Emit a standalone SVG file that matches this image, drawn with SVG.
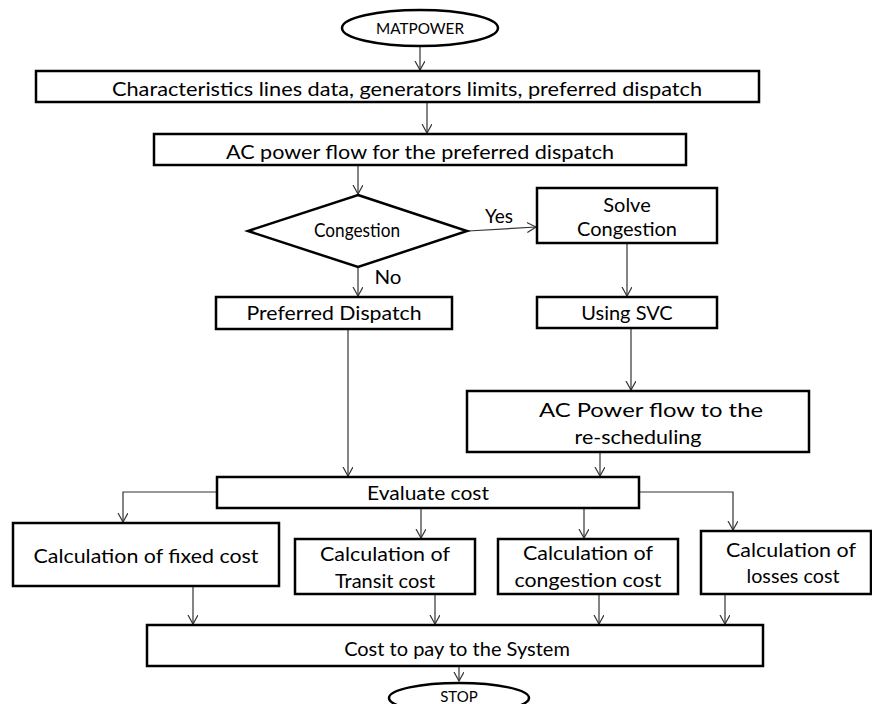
<svg xmlns="http://www.w3.org/2000/svg" width="872" height="704" viewBox="0 0 872 704">
<defs>
<style>
.box{fill:#fff;stroke:#000;stroke-width:2.5}
.t{font-family:Lato,"Open Sans","Liberation Sans",sans-serif;font-size:20px;fill:#000;text-anchor:middle}
.s{font-size:15px}
.c{fill:none;stroke:#333;stroke-width:1.2;marker-end:url(#ah)}
.cn{fill:none;stroke:#333;stroke-width:1.2}
</style>
<marker id="ah" markerWidth="12" markerHeight="12" refX="9" refY="5" orient="auto" markerUnits="userSpaceOnUse" viewBox="0 0 12 12">
<path d="M0,0 L9,5 L0,10" fill="none" stroke="#333" stroke-width="1.2"/>
</marker>
</defs>
<rect width="872" height="704" fill="#fff"/>
<g id="connectors">
<line class="c" x1="420" y1="47" x2="420" y2="70"/>
<line class="c" x1="427" y1="103" x2="427" y2="133"/>
<line class="c" x1="358" y1="166" x2="358" y2="194"/>
<line class="c" x1="468" y1="231" x2="536" y2="227"/>
<line class="c" x1="358" y1="267" x2="358" y2="296"/>
<line class="c" x1="627" y1="244" x2="627" y2="296"/>
<line class="c" x1="631" y1="329" x2="631" y2="390"/>
<line class="c" x1="348" y1="330" x2="348" y2="476"/>
<line class="c" x1="600" y1="453" x2="600" y2="476"/>
<polyline class="c" points="216,492 123,492 123,522"/>
<line class="c" x1="421" y1="509" x2="421" y2="538"/>
<line class="c" x1="584" y1="509" x2="584" y2="538"/>
<polyline class="c" points="640,492 733,492 733,530"/>
<line class="c" x1="193" y1="587" x2="193" y2="624"/>
<line class="c" x1="435" y1="595" x2="435" y2="624"/>
<line class="c" x1="599" y1="595" x2="599" y2="624"/>
<line class="c" x1="725" y1="595" x2="725" y2="624"/>
<line class="c" x1="459" y1="667" x2="459" y2="681"/>
</g>
<g id="matpower">
<ellipse class="box" cx="420" cy="28" rx="78" ry="18"/>
<text class="t s" x="420" y="34" textLength="88" lengthAdjust="spacingAndGlyphs">MATPOWER</text>
</g>
<g id="input">
<rect class="box" x="36" y="71" width="723" height="31"/>
<text class="t" x="407" y="96" textLength="590" lengthAdjust="spacingAndGlyphs">Characteristics lines data, generators limits, preferred dispatch</text>
</g>
<g id="acpf">
<rect class="box" x="154" y="134" width="532" height="31"/>
<text class="t" x="420" y="159" textLength="388" lengthAdjust="spacingAndGlyphs">AC power flow for the preferred dispatch</text>
</g>
<g id="congestion">
<polygon class="box" points="358,195 467,231 358,267 248,231"/>
<text class="t" x="357" y="237" font-size="17" textLength="86" lengthAdjust="spacingAndGlyphs">Congestion</text>
</g>
<g id="labels">
<text class="t" x="499" y="223" font-size="19" textLength="28" lengthAdjust="spacingAndGlyphs">Yes</text>
<text class="t" x="388" y="284" font-size="19" textLength="27" lengthAdjust="spacingAndGlyphs">No</text>
</g>
<g id="solve">
<rect class="box" x="537" y="188" width="180" height="55"/>
<text class="t" x="627" y="212">Solve</text>
<text class="t" x="627" y="236">Congestion</text>
</g>
<g id="preferred">
<rect class="box" x="216" y="297" width="236" height="32"/>
<text class="t" x="334" y="320" textLength="175" lengthAdjust="spacingAndGlyphs">Preferred Dispatch</text>
</g>
<g id="svc">
<rect class="box" x="537" y="297" width="180" height="31"/>
<text class="t" x="627" y="320">Using SVC</text>
</g>
<g id="resched">
<rect class="box" x="467" y="391" width="342" height="61"/>
<text class="t" x="651" y="417" textLength="224" lengthAdjust="spacingAndGlyphs">AC Power flow to the</text>
<text class="t" x="638" y="444" textLength="127" lengthAdjust="spacingAndGlyphs">re-scheduling</text>
</g>
<g id="evaluate">
<rect class="box" x="217" y="477" width="422" height="31"/>
<text class="t" x="428" y="500" textLength="122" lengthAdjust="spacingAndGlyphs">Evaluate cost</text>
</g>
<g id="fixed">
<rect class="box" x="13" y="523" width="266" height="63"/>
<text class="t" x="146" y="563" textLength="225" lengthAdjust="spacingAndGlyphs">Calculation of fixed cost</text>
</g>
<g id="transit">
<rect class="box" x="295" y="539" width="180" height="55"/>
<text class="t" x="385" y="561" textLength="130" lengthAdjust="spacingAndGlyphs">Calculation of</text>
<text class="t" x="385" y="588">Transit cost</text>
</g>
<g id="congcost">
<rect class="box" x="498" y="539" width="180" height="55"/>
<text class="t" x="588" y="560" textLength="130" lengthAdjust="spacingAndGlyphs">Calculation of</text>
<text class="t" x="588" y="587" textLength="147" lengthAdjust="spacingAndGlyphs">congestion cost</text>
</g>
<g id="losses">
<rect class="box" x="701" y="531" width="170" height="63"/>
<text class="t" x="791" y="557" textLength="130" lengthAdjust="spacingAndGlyphs">Calculation of</text>
<text class="t" x="793" y="583" textLength="93" lengthAdjust="spacingAndGlyphs">losses cost</text>
</g>
<g id="costsys">
<rect class="box" x="147" y="625" width="616" height="41"/>
<text class="t" x="457" y="656">Cost to pay to the System</text>
</g>
<g id="stop">
<ellipse class="box" cx="459" cy="698" rx="70" ry="15"/>
<text class="t s" x="459" y="702">STOP</text>
</g>
</svg>
